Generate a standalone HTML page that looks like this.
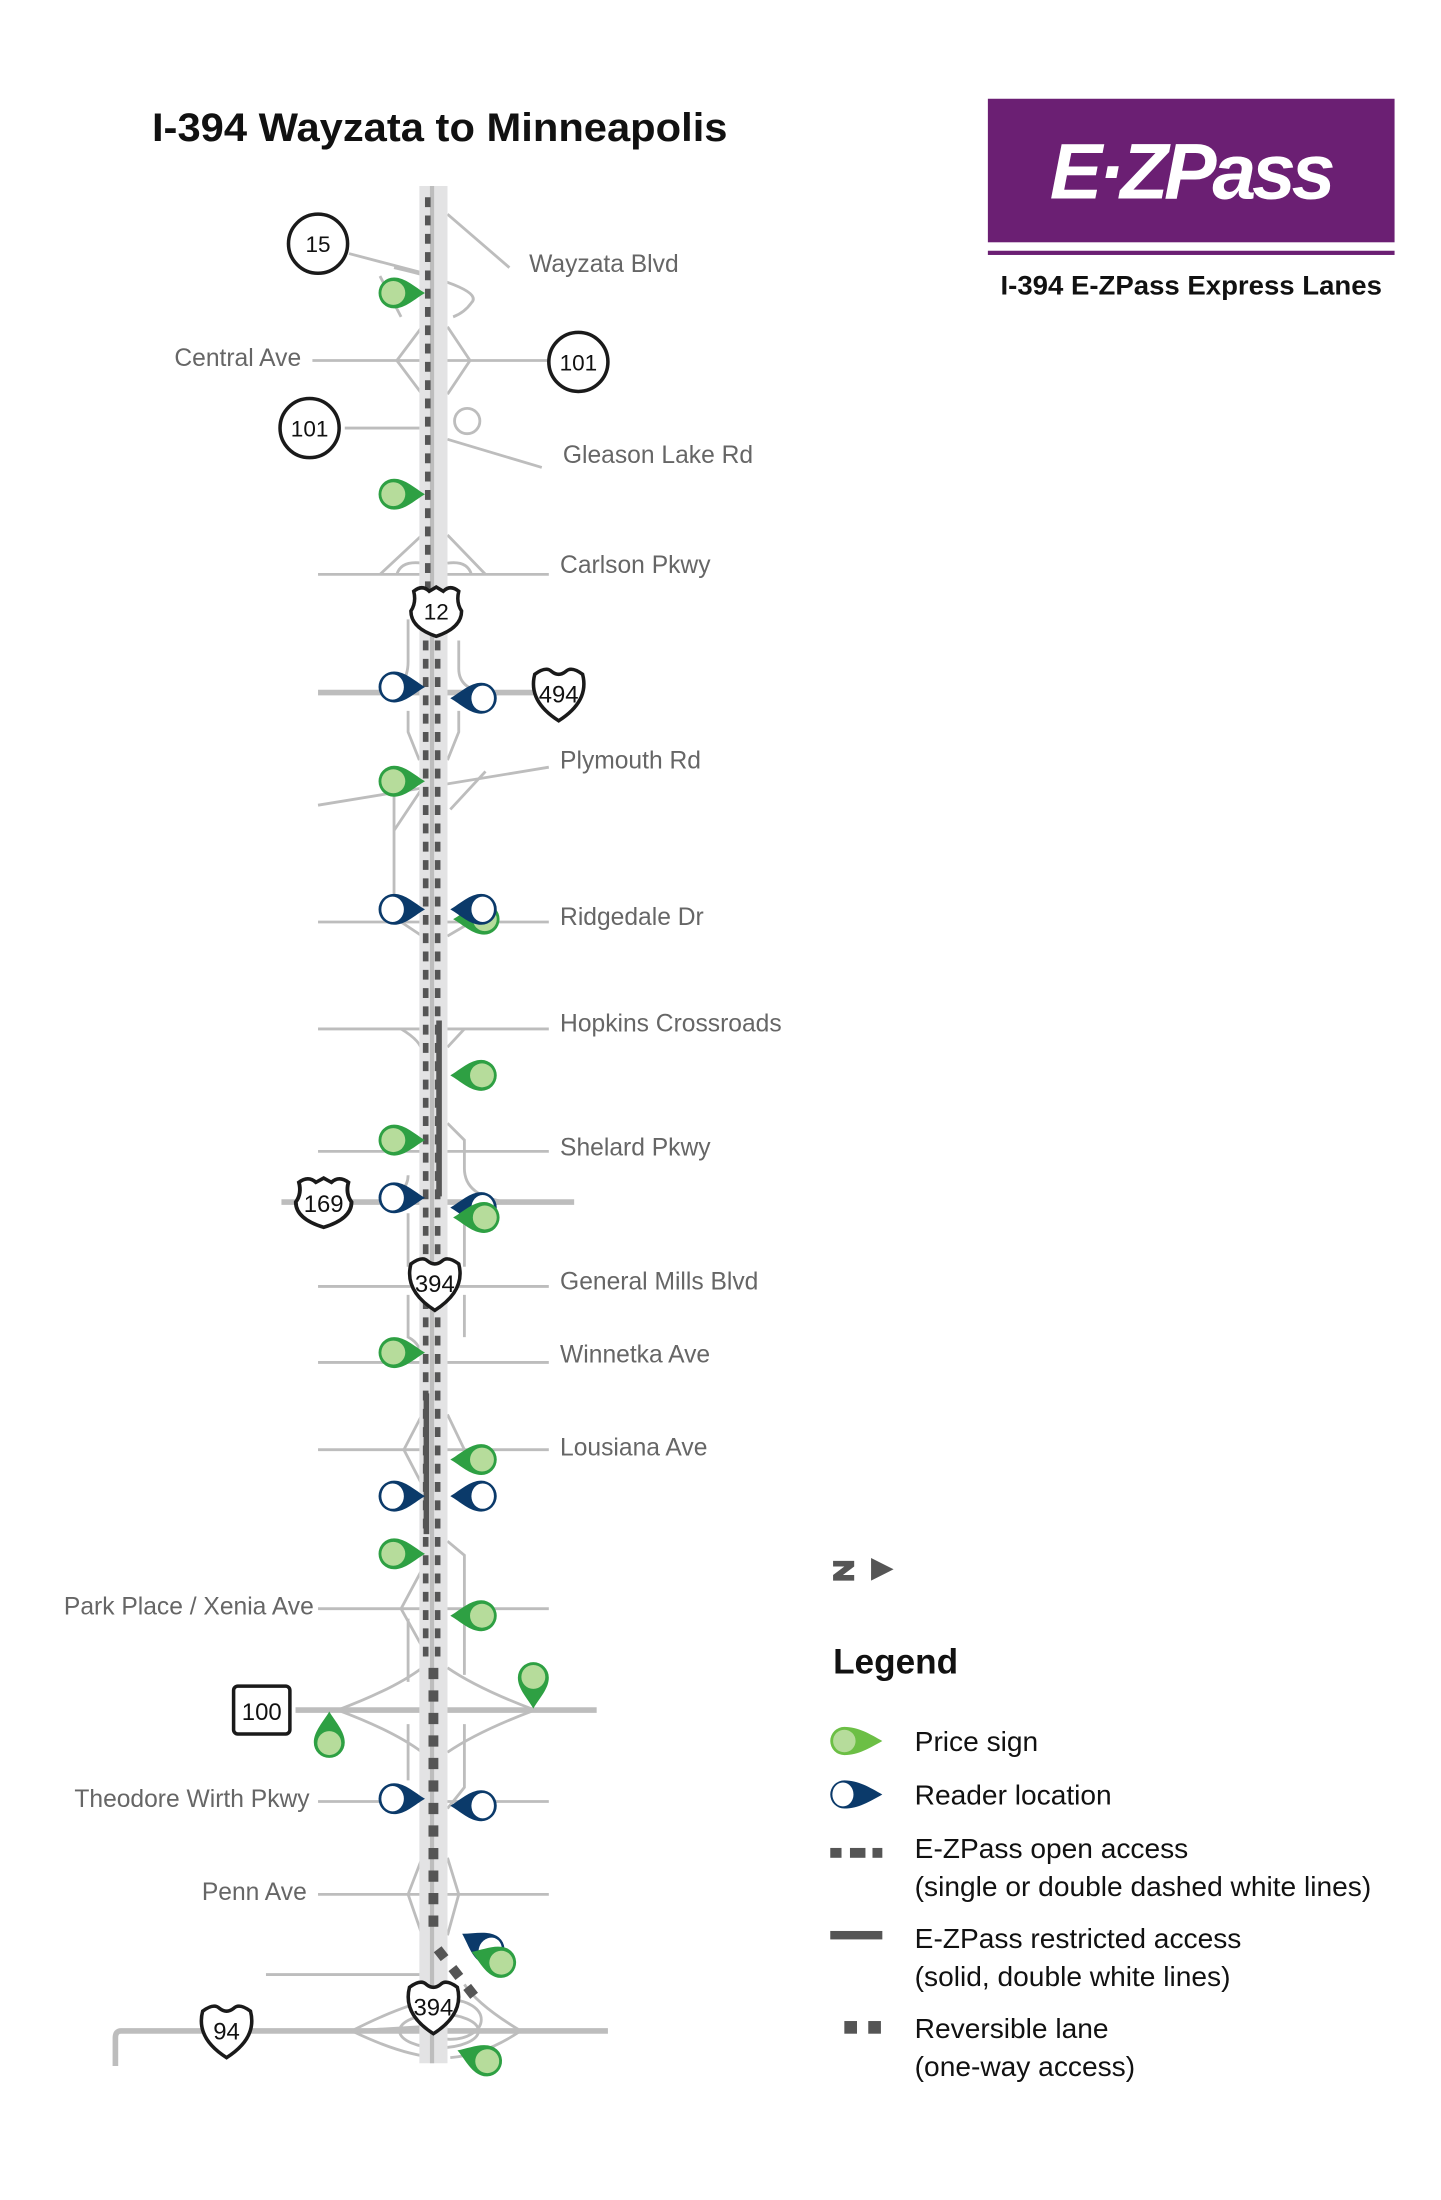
<!DOCTYPE html>
<html><head><meta charset="utf-8"><style>
html,body{margin:0;padding:0;background:#fff}
svg{display:block}
text{font-family:"Liberation Sans",sans-serif}
</style></head><body>
<svg width="1441" height="2200" viewBox="0 0 1024 1563" xmlns="http://www.w3.org/2000/svg">
<defs>
<g id="ps"><path d="M-15,0 A11,11 0 0 1 -4,-11 C4,-11 11,-4 18,0 C11,4 4,11 -4,11 A11,11 0 0 1 -15,0Z" fill="#2ea043"/><circle cx="-4.5" cy="0" r="8.5" fill="#b6dc9b"/></g>
<g id="rd"><path d="M-15,0 A11,11 0 0 1 -4,-11 C4,-11 11,-4 18,0 C11,4 4,11 -4,11 A11,11 0 0 1 -15,0Z" fill="#0b3a6a"/><ellipse cx="-5" cy="0" rx="8" ry="9" fill="#fff"/></g>
<path id="ish" d="M-17,-13 Q-9,-19 -5,-15 Q0,-11 5,-15 Q9,-19 17,-13 Q22,6 0,20 Q-22,6 -17,-13Z" fill="#fff" stroke="#1a1a1a" stroke-width="2.5"/>
<path id="ush" d="M-16,-14 Q-10,-19 -5,-14 L0,-17 L5,-14 Q10,-19 16,-14 Q14,-6 18,0 Q18,12 0,18 Q-18,12 -18,0 Q-14,-6 -16,-14Z" fill="#fff" stroke="#1a1a1a" stroke-width="2.5"/>
</defs>

<text x="108" y="100" font-size="28" font-weight="bold" fill="#111" textLength="409" lengthAdjust="spacingAndGlyphs">I-394 Wayzata to Minneapolis</text>
<rect x="702" y="70" width="289" height="102" fill="#6b1f73"/>
<text x="846" y="141" font-size="56" font-weight="bold" font-style="italic" fill="#fff" text-anchor="middle" letter-spacing="-3">E·ZPass</text>
<rect x="702" y="178" width="289" height="3" fill="#6b1f73"/>
<text x="711" y="209" font-size="19" font-weight="bold" fill="#111" textLength="271" lengthAdjust="spacingAndGlyphs">I-394 E-ZPass Express Lanes</text>

<!-- cross roads -->
<g stroke="#bdbdbd" stroke-width="2" fill="none">
<line x1="222" y1="256" x2="390" y2="256"/>
<line x1="226" y1="408" x2="390" y2="408"/>
<line x1="226" y1="492" x2="300" y2="492" stroke-width="4"/>
<line x1="318" y1="492" x2="380" y2="492" stroke-width="4"/>
<line x1="226" y1="572" x2="390" y2="545"/>
<line x1="226" y1="655" x2="390" y2="655"/>
<line x1="226" y1="731" x2="390" y2="731"/>
<line x1="226" y1="818" x2="390" y2="818"/>
<line x1="200" y1="854" x2="408" y2="854" stroke-width="4"/>
<line x1="226" y1="914" x2="390" y2="914"/>
<line x1="226" y1="968" x2="390" y2="968"/>
<line x1="226" y1="1030" x2="390" y2="1030"/>
<line x1="226" y1="1143" x2="390" y2="1143"/>
<line x1="210" y1="1215" x2="424" y2="1215" stroke-width="4"/>
<line x1="226" y1="1280" x2="390" y2="1280"/>
<line x1="226" y1="1346" x2="390" y2="1346"/>
<line x1="189" y1="1403" x2="300" y2="1403"/>
<path d="M432,1443 L86,1443 Q82,1443 82,1448 L82,1468" stroke-width="4"/>
<line x1="248" y1="180" x2="305" y2="195"/>
<path d="M280,190 Q345,205 335,215 Q330,222 322,225"/>
<line x1="318" y1="152" x2="362" y2="190"/>
<line x1="270" y1="196" x2="285" y2="225"/>
<line x1="245" y1="304" x2="300" y2="304"/>
<circle cx="332" cy="299" r="9"/>
<line x1="318" y1="312" x2="385" y2="332"/>
<path d="M300,232 L282,256 L300,280 M318,232 L334,256 L318,280"/>
<path d="M300,380 L270,408 M318,380 L345,408 M282,408 Q285,398 300,400 M335,408 Q332,398 318,400"/>
<path d="M290,440 L290,470 Q290,490 270,492 M326,455 L326,475 Q326,490 346,492 M290,505 L290,520 L298,540 M326,505 L326,520 L318,540"/>
<path d="M280,555 L280,640 M300,560 L280,590 M320,575 L345,548 M300,665 L285,655 M318,665 L335,655"/>
<path d="M285,731 Q300,740 300,748 M330,731 L318,744"/>
<path d="M318,798 L330,810 L330,830 Q330,850 360,854 M290,835 Q290,850 265,854 M290,862 L290,900 M330,862 L330,900"/>
<path d="M290,920 L290,950 Q300,955 300,968 M330,920 L330,950"/>
<path d="M300,1005 L287,1030 L300,1055 M318,1005 L330,1030"/>
<path d="M318,1095 L330,1105 L330,1190 M300,1115 L285,1143 L300,1170 M290,1150 L290,1195 M290,1225 L290,1265 M330,1225 L330,1270 L318,1285"/>
<path d="M240,1215 Q280,1200 300,1185 M240,1215 Q280,1230 300,1245 M380,1215 Q340,1200 318,1185 M380,1215 Q340,1230 318,1245"/>
<path d="M300,1320 L290,1346 L300,1375 M318,1320 L326,1346 L318,1375"/>
<path d="M250,1443 Q285,1425 310,1420 M250,1443 Q285,1460 310,1462 M250,1443 L300,1440 M370,1443 Q340,1425 330,1410 M370,1443 Q345,1460 320,1462"/>
<ellipse cx="312" cy="1443" rx="28" ry="12"/>
<ellipse cx="320" cy="1435" rx="22" ry="14"/>
</g>

<!-- highway band -->
<rect x="298" y="132" width="20" height="1334" fill="#e3e3e4"/>
<line x1="307" y1="132" x2="307" y2="1466" stroke="#bdbdbd" stroke-width="3"/>
<line x1="304" y1="140" x2="304" y2="440" stroke="#555" stroke-width="4" stroke-dasharray="7,6"/>
<line x1="302.5" y1="455" x2="302.5" y2="1180" stroke="#555" stroke-width="4" stroke-dasharray="7,6"/>
<line x1="311" y1="455" x2="311" y2="1180" stroke="#555" stroke-width="4" stroke-dasharray="7,6"/>
<line x1="312" y1="725" x2="312" y2="850" stroke="#555" stroke-width="4"/>
<line x1="303" y1="990" x2="303" y2="1090" stroke="#555" stroke-width="4"/>
<line x1="308" y1="1185" x2="308" y2="1375" stroke="#555" stroke-width="7" stroke-dasharray="8,8"/>
<line x1="311" y1="1385" x2="340" y2="1422" stroke="#555" stroke-width="7" stroke-dasharray="8,9"/>

<!-- markers -->
<use href="#ps" transform="translate(284,208)"/>
<use href="#ps" transform="translate(284,351)"/>
<use href="#ps" transform="translate(284,555)"/>
<use href="#ps" transform="translate(340,653) scale(-1,1)"/>
<use href="#ps" transform="translate(338,764) scale(-1,1)"/>
<use href="#ps" transform="translate(284,810)"/>
<use href="#ps" transform="translate(284,961)"/>
<use href="#ps" transform="translate(338,1037) scale(-1,1)"/>
<use href="#ps" transform="translate(284,1104)"/>
<use href="#ps" transform="translate(338,1148) scale(-1,1)"/>
<use href="#ps" transform="translate(379,1196) rotate(90)"/>
<use href="#ps" transform="translate(234,1234) rotate(-90)"/>
<use href="#rd" transform="translate(284,488)"/>
<use href="#rd" transform="translate(338,496) scale(-1,1)"/>
<use href="#rd" transform="translate(284,646)"/>
<use href="#rd" transform="translate(338,646) scale(-1,1)"/>
<use href="#rd" transform="translate(284,851)"/>
<use href="#rd" transform="translate(338,858) scale(-1,1)"/>
<use href="#ps" transform="translate(340,865) scale(-1,1)"/>
<use href="#rd" transform="translate(284,1063)"/>
<use href="#rd" transform="translate(338,1063) scale(-1,1)"/>
<use href="#rd" transform="translate(284,1278)"/>
<use href="#rd" transform="translate(338,1283) scale(-1,1)"/>
<use href="#rd" transform="translate(344,1383) rotate(-150)"/>
<use href="#ps" transform="translate(352,1393) rotate(-160)"/>
<use href="#ps" transform="translate(342,1463) rotate(-160)"/>

<!-- shields -->
<g font-size="16" text-anchor="middle" fill="#111">
<circle cx="226" cy="173" r="21" fill="#fff" stroke="#1a1a1a" stroke-width="2.5"/><text x="226" y="179">15</text>
<circle cx="411" cy="257" r="21" fill="#fff" stroke="#1a1a1a" stroke-width="2.5"/><text x="411" y="263">101</text>
<circle cx="220" cy="304" r="21" fill="#fff" stroke="#1a1a1a" stroke-width="2.5"/><text x="220" y="310">101</text>
<use href="#ush" transform="translate(310,434)"/><text x="310" y="440">12</text>
<use href="#ish" transform="translate(397,492)"/><text x="397" y="499" font-size="17">494</text>
<use href="#ush" transform="translate(230,854) scale(1.1,1)"/><text x="230" y="861" font-size="17">169</text>
<use href="#ish" transform="translate(309,911)"/><text x="309" y="918" font-size="17">394</text>
<rect x="166" y="1198" width="40" height="34" rx="3" fill="#fff" stroke="#1a1a1a" stroke-width="2.5"/><text x="186" y="1222" font-size="17">100</text>
<use href="#ish" transform="translate(308,1425)"/><text x="308" y="1432" font-size="17">394</text>
<use href="#ish" transform="translate(161,1442)"/><text x="161" y="1449" font-size="17">94</text>
</g>

<!-- labels -->
<g font-size="17.5" fill="#666">
<text x="376" y="193">Wayzata Blvd</text>
<text x="214" y="260" text-anchor="end">Central Ave</text>
<text x="400" y="329">Gleason Lake Rd</text>
<text x="398" y="407">Carlson Pkwy</text>
<text x="398" y="546">Plymouth Rd</text>
<text x="398" y="657">Ridgedale Dr</text>
<text x="398" y="733">Hopkins Crossroads</text>
<text x="398" y="821">Shelard Pkwy</text>
<text x="398" y="916">General Mills Blvd</text>
<text x="398" y="968">Winnetka Ave</text>
<text x="398" y="1034">Lousiana Ave</text>
<text x="223" y="1147" text-anchor="end">Park Place / Xenia Ave</text>
<text x="220" y="1284" text-anchor="end">Theodore Wirth Pkwy</text>
<text x="218" y="1350" text-anchor="end">Penn Ave</text>
</g>

<!-- legend -->
<path d="M592,1109 H607 V1113 L599,1119 H607 V1123 H592 V1119 L600,1113 H592Z" fill="#555"/>
<path d="M619,1107 L635,1115 L619,1123Z" fill="#555"/>
<text x="592" y="1189" font-size="25" font-weight="bold" fill="#111">Legend</text>
<path d="M590,1237 A10,10 0 0 1 600,1227 C610,1227 618,1232 627,1237 C618,1242 610,1247 600,1247 A10,10 0 0 1 590,1237Z" fill="#6cbf45"/>
<circle cx="600" cy="1237" r="8" fill="#b6dc9b"/>
<path d="M590,1275 A10,10 0 0 1 600,1265 C610,1265 618,1270 627,1275 C618,1280 610,1285 600,1285 A10,10 0 0 1 590,1275Z" fill="#0b3a6a"/>
<ellipse cx="599" cy="1275" rx="7.5" ry="8.5" fill="#fff"/>
<rect x="590" y="1313" width="8" height="7" fill="#555"/><rect x="604" y="1313" width="11" height="7" fill="#555"/><rect x="620" y="1313" width="7" height="7" fill="#555"/>
<rect x="590" y="1372" width="37" height="6" fill="#555"/>
<rect x="600" y="1436" width="9" height="9" fill="#555"/><rect x="617" y="1436" width="9" height="9" fill="#555"/>
<g font-size="20" fill="#111">
<text x="650" y="1244">Price sign</text>
<text x="650" y="1282">Reader location</text>
<text x="650" y="1320">E-ZPass open access</text>
<text x="650" y="1347">(single or double dashed white lines)</text>
<text x="650" y="1384">E-ZPass restricted access</text>
<text x="650" y="1411">(solid, double white lines)</text>
<text x="650" y="1448">Reversible lane</text>
<text x="650" y="1475">(one-way access)</text>
</g>
</svg>
</body></html>
